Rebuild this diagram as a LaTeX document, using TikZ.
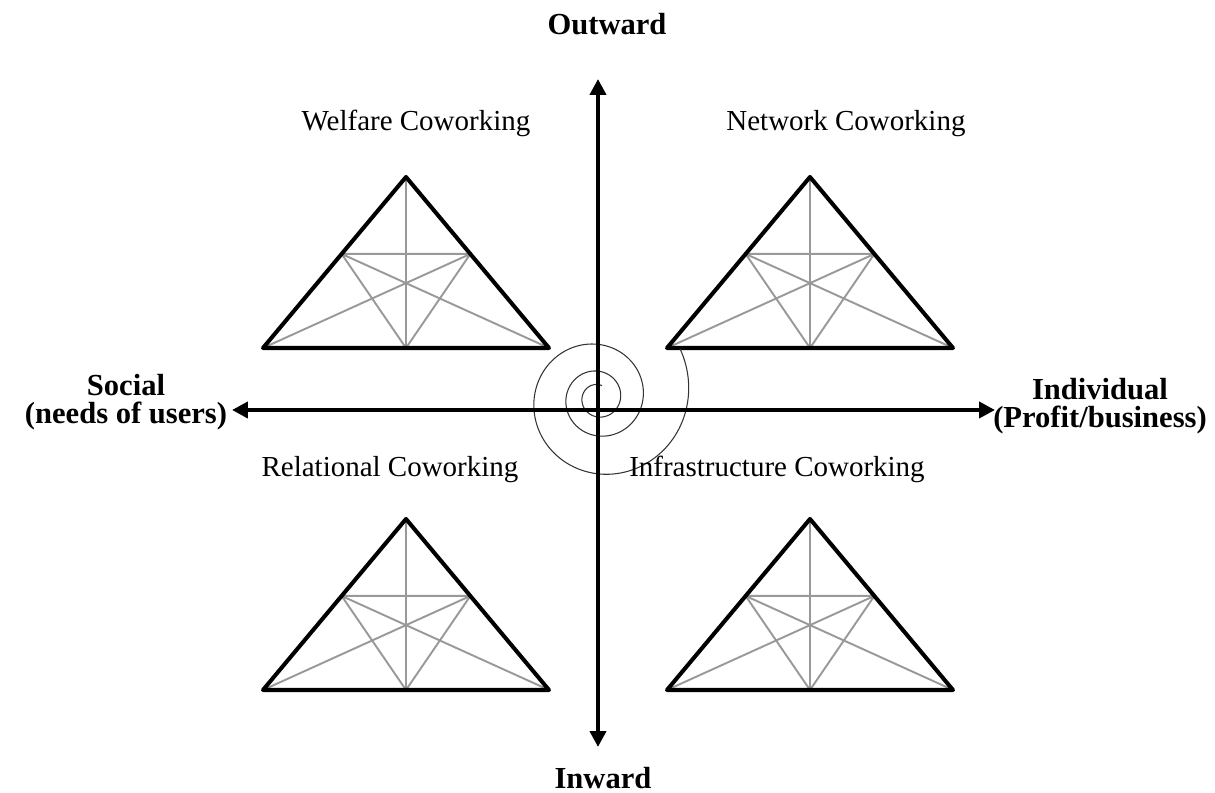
\documentclass[tikz,border=0pt]{standalone}
\usepackage{fontspec}
\setmainfont{Liberation Serif}
\usetikzlibrary{arrows.meta,calc}

\begin{document}
\begin{tikzpicture}[x=0.02cm, y=0.02cm,
    axis/.style={line width=2.8pt, {Triangle[width=9pt,length=9pt]}-{Triangle[width=9pt,length=9pt]}},
    tri/.style={line width=2.3pt, line join=round},
    web/.style={gray!80, line width=1.1pt},
    quad/.style={font=\fontsize{16.5}{20}\selectfont, anchor=base},
    pole/.style={font=\fontsize{17.4}{15.8}\selectfont\bfseries, align=center}]
    \useasboundingbox (-598,-383) rectangle (617,410);

    % Axis end points
    \coordinate (top) at (0,331);
    \coordinate (bot) at (0,-337);
    \coordinate (lft) at (-366,0);
    \coordinate (rgt) at (397,0);

    % Triangles with inner lines
    \foreach \n/\cx/\by in {wel/-192/62, net/212/62, rel/-192/-280, inf/212/-280} {
        \coordinate (\n-a) at (\cx,\by+171);
        \coordinate (\n-bl) at (\cx-143,\by);
        \coordinate (\n-br) at (\cx+143,\by);
        \coordinate (\n-bm) at (\cx,\by);
        \coordinate (\n-l) at ($(\n-a)!0.45!(\n-bl)$);
        \coordinate (\n-r) at ($(\n-a)!0.45!(\n-br)$);
        \draw[web] (\n-a) -- (\n-bm) (\n-l) -- (\n-r) (\n-l) -- (\n-bm) -- (\n-r)
            (\n-bl) -- (\n-r) (\n-br) -- (\n-l);
        \draw[tri] (\n-a) -- (\n-bl) -- (\n-br) -- cycle;
    }

    % Spiral
    \draw[black!80, line width=0.6pt] plot[domain=72:1111, samples=400, smooth]
        ({19*exp(0.0019254*(\x-270))*cos(\x)}, {12+19*exp(0.0019254*(\x-270))*sin(\x)});

    % Axes
    \draw[axis] (bot) -- (top);
    \draw[axis] (lft) -- (rgt);

    % Axis labels
    \node[pole] (outward) at (9,386) {Outward};
    \node[pole] (inward) at (5,-368) {Inward};
    \node[pole] (social) at (-472,8) {Social\\(needs of users)};
    \node[pole] (indiv) at (502,4) {Individual\\(Profit/business)};

    % Quadrant labels
    \node[quad] (welfare) at (-182,279) {Welfare Coworking};
    \node[quad] (network) at (248,279) {Network Coworking};
    \node[quad] (relational) at (-208,-67) {Relational Coworking};
    \node[quad] (infra) at (179,-67) {Infrastructure Coworking};
\end{tikzpicture}
\end{document}
